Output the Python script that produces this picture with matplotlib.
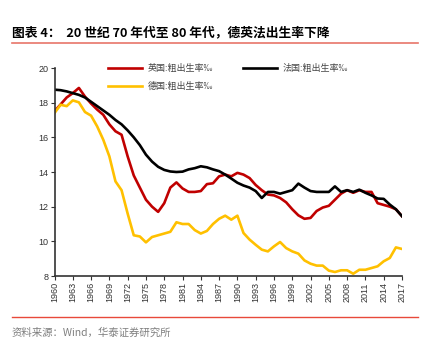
import matplotlib
matplotlib.use("Agg")
import matplotlib.pyplot as plt
from matplotlib.lines import Line2D

plt.rcParams['font.family'] = ['Noto Sans CJK SC', 'DejaVu Sans']

years = list(range(1960, 2018))

uk = [17.5, 17.9, 18.3, 18.55, 18.85, 18.35, 17.95, 17.6, 17.3, 16.75,
      16.35, 16.15, 14.9, 13.8, 13.1, 12.4, 12.0, 11.7, 12.2, 13.1,
      13.4, 13.05, 12.85, 12.85, 12.9, 13.3, 13.35, 13.75, 13.85, 13.75,
      13.95, 13.85, 13.65, 13.25, 12.95, 12.7, 12.65, 12.5, 12.25, 11.85,
      11.5, 11.3, 11.35, 11.75, 11.95, 12.05, 12.4, 12.75, 12.95, 12.8,
      12.95, 12.85, 12.85, 12.2, 12.1, 12.0, 11.85, 11.45]

france = [18.75, 18.72, 18.65, 18.55, 18.45, 18.3, 18.05, 17.8, 17.55, 17.3,
          17.0, 16.75, 16.4, 16.0, 15.55, 15.0, 14.6, 14.3, 14.12, 14.03,
          14.0, 14.02, 14.15, 14.22, 14.33, 14.27, 14.15, 14.05, 13.85, 13.62,
          13.38, 13.22, 13.1, 12.9, 12.5, 12.85, 12.85, 12.75, 12.85, 12.95,
          13.33, 13.1, 12.9, 12.85, 12.85, 12.85, 13.17, 12.85, 12.95, 12.85,
          12.98, 12.8, 12.65, 12.47, 12.45, 12.12, 11.85, 11.45]

germany = [17.4, 17.88, 17.8, 18.13, 18.02, 17.46, 17.25, 16.63, 15.86, 14.9,
           13.46, 12.95, 11.6, 10.35, 10.28, 9.94, 10.25, 10.35, 10.45, 10.55,
           11.1, 11.0, 11.0, 10.65, 10.45, 10.6, 11.0, 11.3, 11.48, 11.25,
           11.48, 10.48, 10.1, 9.8, 9.52, 9.42, 9.71, 9.96, 9.61, 9.42,
           9.29, 8.9, 8.71, 8.6, 8.6, 8.31, 8.23, 8.33, 8.33, 8.13,
           8.36, 8.36, 8.46, 8.56, 8.85, 9.04, 9.65, 9.56]

series_labels = ['英国:粗出生率‰', '法国:粗出生率‰', '德国:粗出生率‰']
series_colors = ['#C00000', '#000000', '#FFC000']

yticks = [8, 10, 12, 14, 16, 18, 20]
xticks = list(range(1960, 2018, 3))

W, H = 428, 345
fig = plt.figure(figsize=(W / 100, H / 100), dpi=100)
ax = fig.add_axes([54.5 / W, 1 - 276 / H, (402 - 54.5) / W, (276 - 68) / H])

l_uk, = ax.plot(years, uk, color=series_colors[0], lw=1.9, solid_joinstyle='round')
l_fr, = ax.plot(years, france, color=series_colors[1], lw=1.9, solid_joinstyle='round')
l_de, = ax.plot(years, germany, color=series_colors[2], lw=1.9, solid_joinstyle='round')

ax.set_xlim(1960, 2017)
ax.set_ylim(8, 20)
ax.set_yticks(yticks)
ax.set_yticklabels([str(v) for v in yticks], fontsize=6.5, family='Liberation Sans')
ax.set_xticks(xticks)
ax.set_xticklabels([str(v) for v in xticks], fontsize=6.5, rotation=90, family='Liberation Sans')
ax.tick_params(axis='both', direction='out', length=3, width=0.8, colors='#333333', pad=1.5)
for s in ['top', 'right']:
    ax.spines[s].set_visible(False)
for s in ['left', 'bottom']:
    ax.spines[s].set_linewidth(1.2)
    ax.spines[s].set_color('#333333')

leg = ax.legend([l_uk, l_de, l_fr], [series_labels[0], series_labels[2], series_labels[1]],
                ncol=2, frameon=False, loc='upper left',
                bbox_to_anchor=(108 / W, 1 - 64 / H), bbox_transform=fig.transFigure,
                borderpad=0, borderaxespad=0, handlelength=3.8, handletextpad=0.6,
                columnspacing=3.3, labelspacing=1.0,
                prop={'family': ['Noto Sans CJK SC', 'DejaVu Sans'], 'size': 6.5})
for t in leg.get_texts():
    t.set_color('#444444')

fig.text(12 / W, 1 - 33 / H, '图表 4：  20 世纪 70 年代至 80 年代，德英法出生率下降',
         fontsize=9.2, fontweight='bold', ha='left', va='center', color='#000000')
fig.add_artist(Line2D([12 / W, 418 / W], [1 - 42.5 / H] * 2, transform=fig.transFigure,
                      color='#E8756A', lw=1.2))
fig.add_artist(Line2D([12 / W, 418 / W], [1 - 317 / H] * 2, transform=fig.transFigure,
                      color='#E8493A', lw=1.0))
fig.text(12 / W, 1 - 332.5 / H, '资料来源：Wind，华泰证券研究所',
         fontsize=7.5, ha='left', va='center', color='#7F7F7F')

fig.savefig('out.png', dpi=100)
